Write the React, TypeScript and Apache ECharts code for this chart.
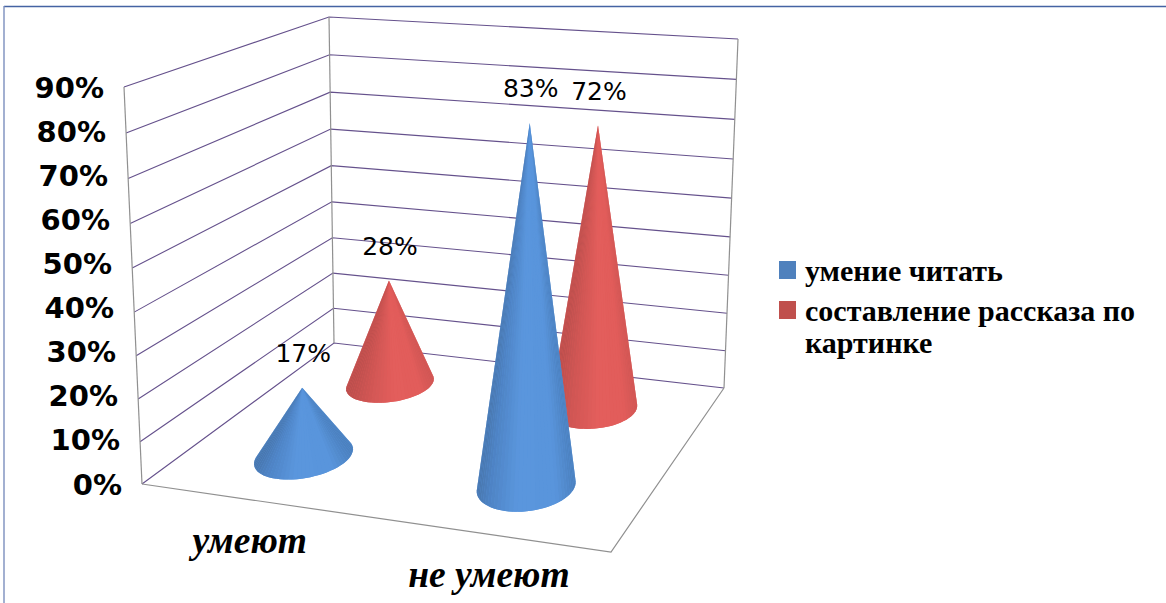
import React, { useEffect, useRef } from "react";
import * as echarts from "echarts";

const categories = ["умеют", "не умеют"];
const readingName = "умение читать";
const storyName = "составление рассказа по картинке";
const readingValues = [17, 83];
const storyValues = [28, 72];
const tickValues = [0, 10, 20, 30, 40, 50, 60, 70, 80, 90];

type Pt = [number, number];

// Corners of the 3D box on screen: floor and ceiling, each front-left, front-right, back-right, back-left.
const FLOOR: Pt[] = [[142, 484], [611, 552], [724, 388], [334, 343]];
const CEILING: Pt[] = [[124, 87], [625, 125], [738, 39], [329, 17]];
const HEIGHT_BEND = 1.048;
const CONE_RU = 0.097;
const CONE_RV = 0.14;
const CONE_U_SHIFT = -0.002;
const APEX_DROP = 1.5;
const READING_DEPTH = 0.26;
const STORY_DEPTH = 0.76;

// Unit square to quadrilateral projective map.
function squareToQuad(q: Pt[]) {
  const [[x0, y0], [x1, y1], [x2, y2], [x3, y3]] = q;
  const dx1 = x1 - x2, dx2 = x3 - x2, sx = x0 - x1 + x2 - x3;
  const dy1 = y1 - y2, dy2 = y3 - y2, sy = y0 - y1 + y2 - y3;
  const det = dx1 * dy2 - dx2 * dy1;
  const g = (sx * dy2 - dx2 * sy) / det;
  const h = (dx1 * sy - sx * dy1) / det;
  const a = x1 - x0 + g * x1, b = x3 - x0 + h * x3, c = x0;
  const d = y1 - y0 + g * y1, e = y3 - y0 + h * y3, f = y0;
  return (u: number, v: number): Pt => {
    const den = g * u + h * v + 1;
    return [(a * u + b * v + c) / den, (d * u + e * v + f) / den];
  };
}

const floorMap = squareToQuad(FLOOR);
const ceilingMap = squareToQuad(CEILING);

function project(u: number, v: number, w: number, bend = HEIGHT_BEND): Pt {
  const p = floorMap(u, v);
  const q = ceilingMap(u, v);
  const t = w / (w + bend * (1 - w));
  return [p[0] + (q[0] - p[0]) * t, p[1] + (q[1] - p[1]) * t];
}

// Converts a category/value pair into box coordinates through the hidden cartesian axes.
function toBox(api: any, params: any, cat: number, value: number) {
  const sys = params.coordSys;
  const c = api.coord([cat, value]);
  return { u: (c[0] - sys.x) / sys.width, w: 1 - (c[1] - sys.y) / sys.height };
}

function hull(points: Pt[]): Pt[] {
  const pts = [...points].sort((a, b) => a[0] - b[0] || a[1] - b[1]);
  const cross = (o: Pt, a: Pt, b: Pt) => (a[0] - o[0]) * (b[1] - o[1]) - (a[1] - o[1]) * (b[0] - o[0]);
  const chain = (list: Pt[]) => {
    const out: Pt[] = [];
    for (const p of list) {
      while (out.length >= 2 && cross(out[out.length - 2], out[out.length - 1], p) <= 0) out.pop();
      out.push(p);
    }
    out.pop();
    return out;
  };
  return chain(pts).concat(chain([...pts].reverse()));
}

function shade(stops: [number, number[]][], s: number) {
  for (let i = 1; i < stops.length; i++) {
    if (s <= stops[i][0]) {
      const [s0, c0] = stops[i - 1];
      const [s1, c1] = stops[i];
      const t = (s - s0) / (s1 - s0);
      const c = c0.map((v, k) => Math.round(v + (c1[k] - v) * t));
      return `rgb(${c[0]},${c[1]},${c[2]})`;
    }
  }
  const last = stops[stops.length - 1][1];
  return `rgb(${last[0]},${last[1]},${last[2]})`;
}

const BLUE_SHADES: [number, number[]][] = [
  [0, [72, 118, 173]], [0.12, [78, 131, 196]], [0.4, [90, 150, 221]], [0.8, [89, 149, 220]], [1, [75, 128, 190]],
];
const RED_SHADES: [number, number[]][] = [
  [0, [186, 78, 76]], [0.25, [208, 86, 84]], [0.55, [227, 94, 92]], [0.85, [226, 93, 91]], [1, [208, 86, 84]],
];

function coneSeries(name: string, values: number[], color: string, depth: number, shades: [number, number[]][]) {
  return {
    type: "custom",
    name,
    coordinateSystem: "cartesian2d",
    silent: true,
    itemStyle: { color },
    data: values.map((v, i) => [i, v]),
    encode: { x: 0, y: 1 },
    renderItem: (params: any, api: any) => {
      const { u, w } = toBox(api, params, api.value(0), api.value(1));
      const cu = u + CONE_U_SHIFT;
      const top = project(cu, depth, w);
      const apex: Pt = [top[0], top[1] + APEX_DROP];
      const base: Pt[] = [];
      for (let i = 0; i < 72; i++) {
        const a = (i / 72) * Math.PI * 2;
        base.push(project(cu + CONE_RU * Math.cos(a), depth + CONE_RV * Math.sin(a), 0));
      }
      const outline = hull([apex, ...base]);
      const at = outline.findIndex((p) => p === apex);
      const arc = outline.slice(at + 1).concat(outline.slice(0, at));
      const xs = arc.map((p) => p[0]);
      const left = Math.min(...xs);
      const right = Math.max(...xs);
      // Silhouette underneath so the seams between facets never show the background.
      const children: any[] = [
        { type: "polygon", shape: { points: outline }, style: { fill: shade(shades, 0.5) } },
      ];
      for (let i = 0; i + 1 < arc.length; i++) {
        const s = ((arc[i][0] + arc[i + 1][0]) / 2 - left) / (right - left);
        children.push({
          type: "polygon",
          shape: { points: [apex, arc[i], arc[i + 1]] },
          style: { fill: shade(shades, s) },
        });
      }
      children.push({
        type: "text",
        style: {
          x: apex[0] + 1,
          y: apex[1] - 34,
          text: `${api.value(1)}%`,
          fontFamily: "DejaVu Sans",
          fontSize: 25,
          fill: "#000000",
          align: "center",
          verticalAlign: "middle",
        },
      });
      return { type: "group", children };
    },
  };
}

const GRID_COLOR = "#65518c";
const EDGE_COLOR = "#909090";

// Gridlines on the two walls, one polyline per tick.
const wallSeries = {
  type: "custom",
  name: "стенки",
  coordinateSystem: "cartesian2d",
  silent: true,
  data: tickValues.map((t) => [0, t]),
  encode: { x: 0, y: 1 },
  renderItem: (params: any, api: any) => {
    const { w } = toBox(api, params, 0, api.value(1));
    return {
      type: "polyline",
      shape: { points: [project(0, 0, w), project(0, 1, w), project(1, 1, w)] },
      style: { stroke: GRID_COLOR, lineWidth: 1.1, fill: "none" },
    };
  },
};

// Vertical edges, the two open floor edges and the chart area's top and left border.
const frameSeries = {
  type: "custom",
  name: "рамка",
  coordinateSystem: "cartesian2d",
  silent: true,
  data: [[0, 0]],
  encode: { x: 0, y: 1 },
  renderItem: () => {
    const edge = (points: Pt[]) => ({
      type: "polyline",
      shape: { points },
      style: { stroke: EDGE_COLOR, lineWidth: 1.2, fill: "none" },
    });
    const border = (points: Pt[], stroke: string) => ({
      type: "polyline",
      shape: { points },
      style: { stroke, lineWidth: 1.4, fill: "none" },
    });
    return {
      type: "group",
      children: [
        border([[4, 6.5], [1166, 6.5]], "#4463a3"),
        border([[4, 6], [4, 603]], "#7b8fbe"),
        edge([project(0, 0, 0), project(0, 0, 1)]),
        edge([project(0, 1, 0), project(0, 1, 1)]),
        edge([project(1, 1, 0), project(1, 1, 1)]),
        edge([project(0, 0, 0), project(1, 0, 0), project(1, 1, 0)]),
      ],
    };
  },
};

// Percent labels run evenly beside the front edge.
const tickLabelSeries = {
  type: "custom",
  name: "подписи оси",
  coordinateSystem: "cartesian2d",
  silent: true,
  data: tickValues.map((t) => [0, t]),
  encode: { x: 0, y: 1 },
  renderItem: (params: any, api: any) => {
    const { w } = toBox(api, params, 0, api.value(1));
    const p = project(0, 0, w, 1);
    return {
      type: "text",
      style: {
        x: p[0] - 20,
        y: p[1] + 0.5,
        text: `${api.value(1)}%`,
        fontFamily: "DejaVu Sans",
        fontWeight: "bold",
        fontSize: 29,
        fill: "#000000",
        align: "right",
        verticalAlign: "middle",
      },
    };
  },
};

const categoryLabelSeries = {
  type: "custom",
  name: "подписи категорий",
  coordinateSystem: "cartesian2d",
  silent: true,
  data: categories.map((_, i) => [i, 0]),
  encode: { x: 0, y: 1 },
  renderItem: (params: any, api: any) => {
    const { u } = toBox(api, params, api.value(0), 0);
    const p = project(u, 0, 0);
    return {
      type: "text",
      style: {
        x: p[0] - 5 + 10 * u,
        y: p[1] + 41,
        text: categories[api.value(0)],
        fontFamily: "Liberation Serif",
        fontWeight: "bold",
        fontStyle: "italic",
        fontSize: 37.5,
        fill: "#000000",
        align: "center",
        verticalAlign: "middle",
      },
    };
  },
};

export default function App() {
  const ref = useRef<HTMLDivElement>(null);
  useEffect(() => {
    document.body.style.margin = "0";
    const chart = echarts.init(ref.current!, undefined, { renderer: "svg" });
    chart.setOption({
      animation: false,
      backgroundColor: "#ffffff",
      grid: { left: 0, right: 0, top: 0, bottom: 0 },
      xAxis: { type: "category", data: categories, show: false },
      yAxis: { type: "value", min: 0, max: 90, interval: 10, show: false },
      legend: {
        orient: "vertical",
        left: 779,
        top: 254,
        padding: 0,
        itemWidth: 17,
        itemHeight: 18,
        itemGap: -24,
        icon: "rect",
        selectedMode: false,
        data: [readingName, storyName],
        // The blank first line keeps the swatch level with the first line of the wrapped name.
        formatter: (name: string) => (name === storyName ? " \nсоставление рассказа по\nкартинке" : name),
        textStyle: {
          fontFamily: "Liberation Serif",
          fontWeight: "bold",
          fontSize: 30,
          lineHeight: 32,
          color: "#000000",
          padding: [0, 0, 0, 4],
        },
      },
      series: [
        wallSeries,
        frameSeries,
        tickLabelSeries,
        categoryLabelSeries,
        coneSeries(storyName, storyValues, "#c0504d", STORY_DEPTH, RED_SHADES),
        coneSeries(readingName, readingValues, "#4f81bd", READING_DEPTH, BLUE_SHADES),
      ],
    });
    return () => chart.dispose();
  }, []);
  return <div ref={ref} style={{ width: 1166, height: 603 }} />;
}
